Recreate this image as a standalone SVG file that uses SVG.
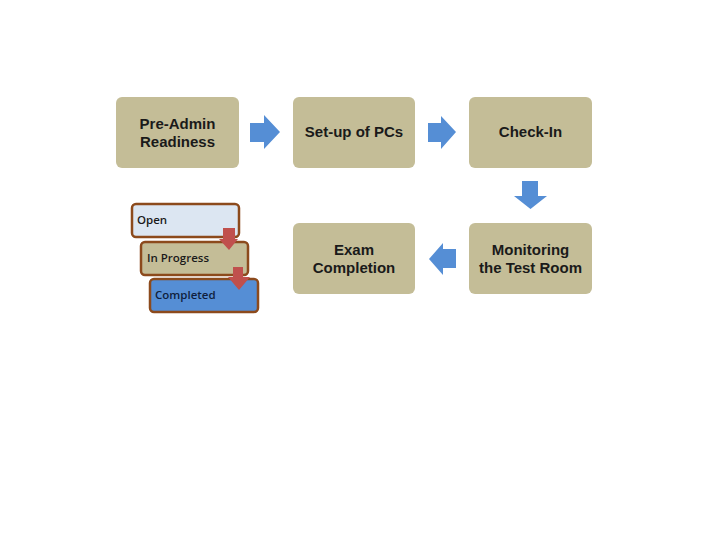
<svg xmlns="http://www.w3.org/2000/svg" width="720" height="540" viewBox="0 0 720 540">
<style>
.box{fill:#C4BD97;}
.t{font-family:"Liberation Sans",Arial,sans-serif;font-weight:bold;font-size:15px;fill:#1a1a1a;text-anchor:middle;}
.blue{fill:#558ED5;}
.red{fill:#C0504D;}
.st{stroke:#8C4A1C;stroke-width:2.5;}
.s{font-family:"Open Sans","Liberation Sans",sans-serif;font-size:11.5px;font-weight:600;fill:#1a1a1a;}
</style>
<rect width="720" height="540" fill="#fff"/>
<g id="n1"><rect class="box" x="116" y="97" width="123" height="71" rx="6"/><text class="t" x="177.5" y="129">Pre-Admin</text><text class="t" x="177.5" y="147">Readiness</text></g>
<g id="n2"><rect class="box" x="293" y="97" width="122" height="71" rx="6"/><text class="t" x="354" y="137">Set-up of PCs</text></g>
<g id="n3"><rect class="box" x="469" y="97" width="123" height="71" rx="6"/><text class="t" x="530.5" y="137">Check-In</text></g>
<g id="n4"><rect class="box" x="469" y="223" width="123" height="71" rx="6"/><text class="t" x="530.5" y="255">Monitoring</text><text class="t" x="530.5" y="273">the Test Room</text></g>
<g id="n5"><rect class="box" x="293" y="223" width="122" height="71" rx="6"/><text class="t" x="354" y="255">Exam</text><text class="t" x="354" y="273">Completion</text></g>
<g id="connectors">
<polygon class="blue" points="250,123 264,123 264,115 280,132 264,149 264,142 250,142"/>
<polygon class="blue" points="428,123 441,123 441,116 456,132 441,149 441,142 428,142"/>
<polygon class="blue" points="522,181 538,181 538,196 547,196 530.5,209 514,196 522,196"/>
<polygon class="blue" points="456,249 443,249 443,243 429,259 443,275 443,268 456,268"/>
</g>
<g id="legend">
<g id="open"><rect x="132" y="204" width="107" height="33" rx="4" fill="#DCE6F2" class="st"/><text class="s" x="137" y="224">Open</text></g>
<g id="inprogress"><rect x="141" y="242" width="107" height="33" rx="4" fill="#C4BD97" class="st"/><text class="s" x="147" y="262">In Progress</text></g>
<g id="completed"><rect x="150" y="279" width="108" height="33" rx="4" fill="#558ED5" class="st"/><text class="s" x="155" y="299" style="fill:#0F1F3D">Completed</text></g>
<polygon class="red" points="223,228 235,228 235,239 238,239 229,250 219,239 223,239"/>
<polygon class="red" points="233,267 243,267 243,277 250,277 239,290 228,277 233,277"/>
</g>
</svg>
